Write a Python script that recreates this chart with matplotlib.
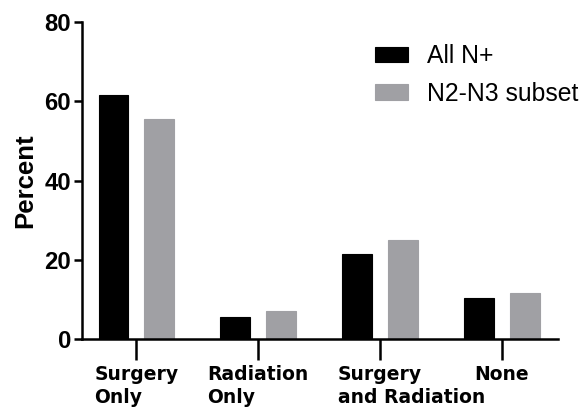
import matplotlib.pyplot as plt
from matplotlib import font_manager
import numpy as np

# Datos
first_lines = ["Surgery", "Radiation", "Surgery", "None"]
second_lines = ["Only", "Only", "and Radiation", ""]
all_n = [61.7, 5.5, 21.5, 10.4]
n2_n3 = [55.6, 7.0, 25.0, 11.7]
series_names = ["All N+", "N2-N3 subset"]


def liberation(bold, size):
    # buscar el archivo para no caer en la variante Narrow
    name = "LiberationSans-Bold.ttf" if bold else "LiberationSans-Regular.ttf"
    for f in font_manager.findSystemFonts():
        if f.endswith(name):
            return font_manager.FontProperties(fname=f, size=size)
    return font_manager.FontProperties(family="Liberation Sans",
                                       weight="bold" if bold else "normal",
                                       stretch="normal", size=size)


fig = plt.figure(figsize=(5.87, 4.07), dpi=100)
ax = fig.add_axes([0.1397, 0.167, 0.8109, 0.779])

x = np.arange(len(first_lines))
w = 0.245
ax.bar(x - 0.187, all_n, w, color="black", edgecolor="black", linewidth=0.8, label=series_names[0])
ax.bar(x + 0.187, n2_n3, w, color="#a0a0a4", edgecolor="#a0a0a4", linewidth=0.8, label=series_names[1])

ax.set_xlim(-0.445, 3.46)
ax.set_ylim(0, 80)
ax.set_yticks([0, 20, 40, 60, 80])
ax.set_xticks(x)
ax.set_xticklabels(first_lines, fontfamily="DejaVu Sans", fontweight="bold", fontsize=13.5)
for t in ax.get_yticklabels():
    t.set_fontproperties(liberation(True, 17.2))

for s in ["top", "right"]:
    ax.spines[s].set_visible(False)
for s in ["left", "bottom"]:
    ax.spines[s].set_linewidth(1.8)
ax.tick_params(axis="y", length=6, width=1.8, pad=2)
ax.tick_params(axis="x", length=15, width=1.8, pad=4)

ax.set_ylabel("Percent", fontproperties=liberation(True, 18.5), labelpad=5)

leg = ax.legend(loc="upper left", bbox_to_anchor=(0.568, 1.0), frameon=False,
                prop=liberation(False, 17.8),
                handlelength=1.35, handleheight=0.6, handletextpad=0.75, labelspacing=0.55)

# segunda línea de las etiquetas, alineada a la izquierda con la primera
fig.canvas.draw()
r = fig.canvas.get_renderer()
for lab, extra in zip(ax.get_xticklabels(), second_lines):
    if not extra:
        continue
    bb = lab.get_window_extent(r)
    xf = bb.x0 / fig.bbox.width
    yf = (bb.y0 - 4) / fig.bbox.height
    fig.text(xf, yf, extra, ha="left", va="top", fontfamily="DejaVu Sans",
             fontweight="bold", fontsize=13.5)

fig.savefig("out.png", dpi=100)
